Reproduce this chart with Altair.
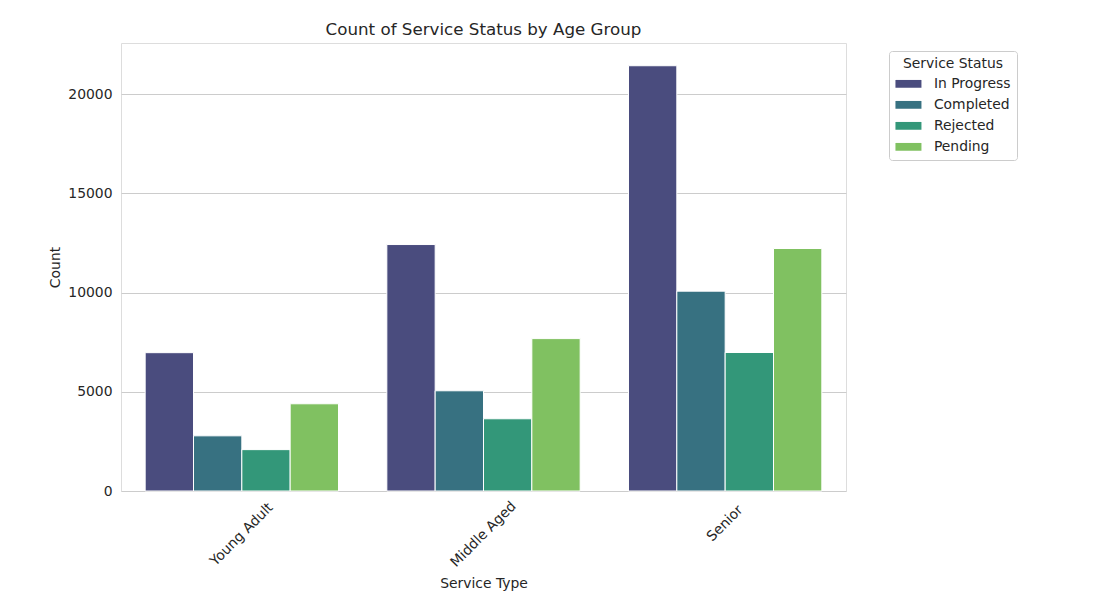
import altair as alt
import pandas as pd

age_groups = ["Young Adult", "Middle Aged", "Senior"]
statuses = ["In Progress", "Completed", "Rejected", "Pending"]
in_progress = [6970, 12420, 21430]
completed = [2780, 5050, 10070]
rejected = [2085, 3640, 6980]
pending = [4395, 7680, 12220]
colors = ["#4a4c7e", "#377181", "#339779", "#80c161"]
y_ticks = [0, 5000, 10000, 15000, 20000]
y_max = 22576

rows = []
for i, g in enumerate(age_groups):
    for s, vals in zip(statuses, [in_progress, completed, rejected, pending]):
        rows.append({"Age Group": g, "Service Status": s, "Count": vals[i]})
df = pd.DataFrame(rows)

FONT = "DejaVu Sans"
TXT = "#262626"
GRID = "#cccccc"
FS = 13.9

chart = alt.Chart(df).mark_bar(stroke="white", strokeWidth=1).encode(
    x=alt.X(
        "Age Group:N", sort=age_groups, title="Service Type",
        scale=alt.Scale(paddingInner=0.2, paddingOuter=0.1),
        axis=alt.Axis(
            labelAngle=-45, labelAlign="center", labelBaseline="middle",
            labelPadding={"condition": {"test": "datum.value == 'Senior'", "value": 32}, "value": 43},
            ticks=False, domain=False, grid=False, labelOverlap=False,
            labelFont=FONT, labelFontSize=FS, labelColor=TXT,
            titleFont=FONT, titleFontSize=FS, titleColor=TXT, titleFontWeight="normal",
            titleY=92, titleBaseline="middle",
        ),
    ),
    xOffset=alt.XOffset("Service Status:N", sort=statuses),
    y=alt.Y(
        "Count:Q", title="Count",
        scale=alt.Scale(domain=[0, y_max], nice=False),
        axis=alt.Axis(
            values=y_ticks, format="d", ticks=False, domain=False,
            grid=True, gridColor=GRID, gridWidth=1,
            labelPadding=9, labelFont=FONT, labelFontSize=FS, labelColor=TXT,
            titleFont=FONT, titleFontSize=FS, titleColor=TXT, titleFontWeight="normal",
            titleX=-66, titleBaseline="middle",
        ),
    ),
    color=alt.Color(
        "Service Status:N", sort=statuses,
        scale=alt.Scale(domain=statuses, range=colors),
        legend=alt.Legend(
            orient="none", legendX=768, legendY=8,
            title="Service Status", titleAnchor="middle", titleFont=FONT,
            titleFontSize=FS, titleFontWeight="normal", titleColor=TXT, titlePadding=6,
            labelFont=FONT, labelFontSize=FS, labelColor=TXT, labelOffset=25,
            symbolType="M-1,-0.6H3V0.6H-1Z", symbolSize=169, symbolStrokeWidth=0,
            symbolOpacity=1, rowPadding=6, padding=6,
            strokeColor=GRID, cornerRadius=3, fillColor="white",
        ),
    ),
).properties(
    width=725, height=448,
    title=alt.TitleParams(
        "Count of Service Status by Age Group", font=FONT, fontSize=16.7,
        fontWeight="normal", color=TXT, anchor="middle", baseline="alphabetic",
        offset=8, dy=17,
    ),
    autosize=alt.AutoSizeParams(type="none"),
    padding={"left": 113, "top": 35, "right": 262, "bottom": 105},
).configure_view(stroke=GRID, strokeWidth=1).configure(background="white")

chart.save("out.html", embed_options={"renderer": "svg", "actions": False})
